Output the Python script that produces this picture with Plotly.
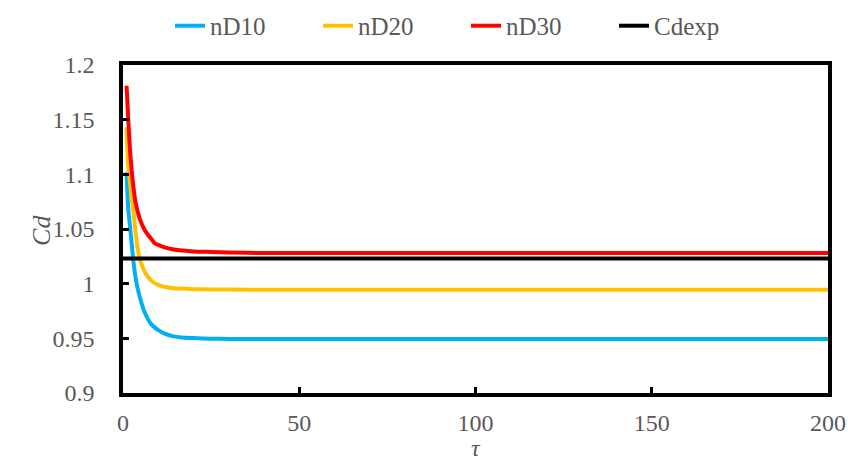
import plotly.graph_objects as go

# --- data ---
tau = [1, 1.5, 2, 2.5, 3, 3.5, 4, 4.5, 5, 6, 7, 8, 9, 10, 12, 14, 16, 20, 25, 30, 40, 60, 100, 150, 200]
nD10 = [1.102, 1.068, 1.052, 1.035, 1.019, 1.007, 0.998, 0.991, 0.985, 0.975, 0.968, 0.963, 0.960,
        0.9575, 0.954, 0.952, 0.951, 0.9502, 0.9497, 0.9495, 0.9495, 0.9495, 0.9495, 0.9495, 0.9495]
nD20 = [1.143, 1.107, 1.092, 1.077, 1.065, 1.049, 1.036, 1.026, 1.020, 1.012, 1.0065, 1.003, 1.0005,
        0.999, 0.997, 0.996, 0.9956, 0.995, 0.9947, 0.9946, 0.9945, 0.9945, 0.9945, 0.9945, 0.9945]
nD30 = [1.181, 1.150, 1.122, 1.102, 1.087, 1.075, 1.068, 1.062, 1.057, 1.050, 1.045, 1.041, 1.037,
        1.0355, 1.033, 1.0315, 1.0305, 1.0295, 1.029, 1.0285, 1.028, 1.028, 1.028, 1.028, 1.028]
cdexp_tau = [0, 200]
cdexp = [1.023, 1.023]

x_ticks = [0, 50, 100, 150, 200]
x_ticktext = ["0", "50", "100", "150", "200"]
y_ticks = [0.9, 0.95, 1.0, 1.05, 1.1, 1.15, 1.2]
y_ticktext = ["0.9", "0.95", "1", "1.05", "1.1", "1.15", "1.2"]

FONT = "Liberation Serif"
GRAY = "#595959"

fig = go.Figure()
fig.add_trace(go.Scatter(x=tau, y=nD10, mode="lines", name="nD10",
                         line=dict(color="#00B0F0", width=4, shape="spline", smoothing=0.6)))
fig.add_trace(go.Scatter(x=tau, y=nD20, mode="lines", name="nD20",
                         line=dict(color="#FFC000", width=4, shape="spline", smoothing=0.6)))
fig.add_trace(go.Scatter(x=tau, y=nD30, mode="lines", name="nD30",
                         line=dict(color="#FF0000", width=4, shape="spline", smoothing=0.6)))
fig.add_trace(go.Scatter(x=cdexp_tau, y=cdexp, mode="lines", name="Cdexp",
                         line=dict(color="#000000", width=4)))

fig.update_layout(
    width=848, height=460,
    margin=dict(l=123, r=20, t=65, b=67, autoexpand=False),
    paper_bgcolor="white", plot_bgcolor="white",
    font=dict(family=FONT, size=24, color=GRAY),
    showlegend=True,
    legend=dict(orientation="h", x=0.0667, xanchor="left", y=1.119, yanchor="middle",
                font=dict(family=FONT, size=25, color=GRAY),
                entrywidth=103, entrywidthmode="pixels",
                bgcolor="rgba(0,0,0,0)", traceorder="normal"),
    annotations=[
        dict(text="<i>τ</i>", xref="paper", yref="paper", x=0.5, y=-0.168,
             xanchor="center", yanchor="middle", showarrow=False,
             font=dict(family=FONT, size=24, color=GRAY)),
        dict(text="<i>Cd</i>", xref="paper", yref="paper", x=-0.115, y=0.497,
             xanchor="center", yanchor="middle", showarrow=False, textangle=-90,
             font=dict(family=FONT, size=26, color=GRAY)),
    ],
)
fig.update_xaxes(
    range=[0, 200], tickvals=x_ticks, ticktext=x_ticktext,
    showgrid=False, zeroline=False,
    showline=True, linecolor="black", linewidth=3.5, mirror=True,
    ticks="inside", ticklen=6, tickwidth=3, tickcolor="black",
    ticklabelstandoff=5,
    tickfont=dict(family=FONT, size=24, color=GRAY),
)
fig.update_yaxes(
    range=[0.9, 1.2], tickvals=y_ticks, ticktext=y_ticktext,
    showgrid=False, zeroline=False,
    showline=True, linecolor="black", linewidth=3.5, mirror=True,
    ticks="inside", ticklen=6, tickwidth=3, tickcolor="black",
    ticklabelstandoff=20,
    tickfont=dict(family=FONT, size=24, color=GRAY),
)

fig.write_html("out.html")
